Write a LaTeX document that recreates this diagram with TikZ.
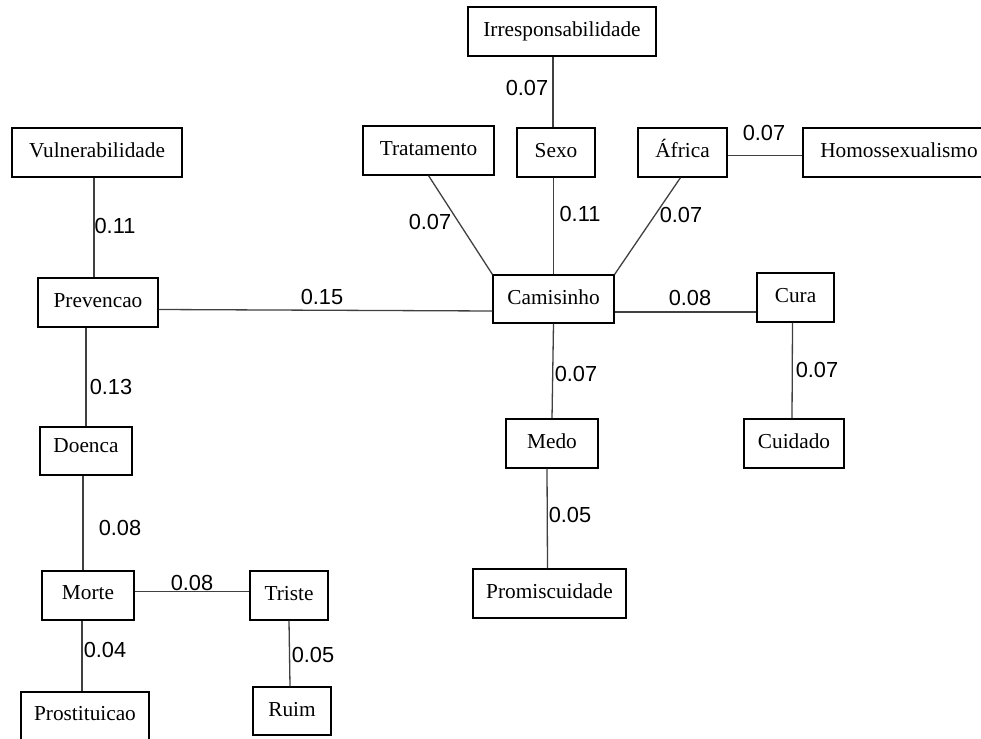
\documentclass[tikz,border=0pt]{standalone}
\usepackage{fontspec}
\setmainfont{Liberation Serif}
\setsansfont{Liberation Sans}
\usepackage{tikz}
\usetikzlibrary{positioning}

\begin{document}
\begin{tikzpicture}[x=1pt, y=-1pt,
    termo/.style={draw, line width=1.2pt, inner sep=0pt, minimum height=49pt,
        text height=13pt, text depth=3pt, font=\fontsize{21.3}{25}\selectfont},
    liga/.style={draw=black!75, line width=1.3pt},
    peso/.style={inner sep=0pt, font=\sffamily\fontsize{21.8}{25}\selectfont}]
    \useasboundingbox (0,0) rectangle (981,738);

    % Upper row of terms
    \node[termo, minimum width=188pt] (irr) at (562,31.5) {Irresponsabilidade};
    \node[termo, minimum width=170pt] (vul) at (97,152.5) {Vulnerabilidade};
    \node[termo, minimum width=131pt] (trat) at (428.5,150.5) {Tratamento};
    \node[termo, minimum width=78pt] (sexo) at (556,152.5) {Sexo};
    \node[termo, minimum width=89pt] (afr) at (682.5,152.5) {África};
    \node[termo, minimum width=192pt] (homo) at (899,152.5) {Homossexualismo};

    % Middle row
    \node[termo, minimum width=120pt] (prev) at (98,302.5) {Prevencao};
    \node[termo, minimum width=121pt, minimum height=48pt] (cam) at (553.5,299) {Camisinho};
    \node[termo, minimum width=77pt] (cura) at (795.5,297.5) {Cura};

    % Lower rows
    \node[termo, minimum width=92pt, minimum height=48pt, text depth=11pt] (doenca) at (86,451) {Doenca};
    \node[termo, minimum width=92pt] (medo) at (552,443.5) {Medo};
    \node[termo, minimum width=100pt] (cuid) at (794,443.5) {Cuidado};
    \node[termo, minimum width=153pt] (prom) at (549.5,593.5) {Promiscuidade};
    \node[termo, minimum width=92pt, text depth=6pt] (morte) at (88,595.5) {Morte};
    \node[termo, minimum width=78pt] (triste) at (289,595.5) {Triste};
    \node[termo, minimum width=128pt, text depth=6pt] (prost) at (85,716.5) {Prostituicao};
    \node[termo, minimum width=78pt, minimum height=48pt] (ruim) at (292,711) {Ruim};

    % Connectors
    \draw[liga] ([xshift=-3pt]sexo.north) -- ([xshift=-3pt]sexo.north |- irr.south);
    \draw[liga] ([xshift=-4pt]prev.north) -- ([xshift=-4pt]prev.north |- vul.south);
    \draw[liga] (trat.south) -- (cam.north west);
    \draw[liga] (cam.north) -- (cam.north |- sexo.south);
    \draw[liga] ([xshift=-2pt]afr.south) -- (cam.north east);
    \draw[liga] ([yshift=-3pt]afr.east) -- ([yshift=-3pt]afr.east -| homo.west);
    \draw[liga] ([yshift=-7pt]prev.east) -- ([yshift=-12pt]cam.west);
    \draw[liga] ([yshift=-13pt]cam.east) -- ([yshift=-13pt]cam.east -| cura.west);
    \draw[liga] (cam.south) -- (medo.north);
    \draw[liga] ([xshift=-3pt]cura.south) -- ([xshift=-2pt]cuid.north);
    \draw[liga] ([xshift=-5pt]medo.south) -- ([xshift=-2pt]prom.north);
    \draw[liga] (doenca.north) -- (doenca.north |- prev.south);
    \draw[liga] ([xshift=-3pt]doenca.south) -- ([xshift=-5pt]morte.north);
    \draw[liga] ([yshift=4pt]morte.east) -- ([yshift=4pt]morte.east -| triste.west);
    \draw[liga] ([xshift=-6pt]morte.south) -- ([xshift=-3pt]prost.north);
    \draw[liga] (triste.south) -- ([xshift=-2pt]ruim.north);

    % Weights
    \node[peso] (w1) at (527,88) {0.07};
    \node[peso] (w2) at (115,226) {0.11};
    \node[peso] (w3) at (430,222) {0.07};
    \node[peso] (w4) at (580,214) {0.11};
    \node[peso] (w5) at (681,215) {0.07};
    \node[peso] (w6) at (764,133) {0.07};
    \node[peso] (w7) at (322,297) {0.15};
    \node[peso] (w8) at (690,298) {0.08};
    \node[peso] (w9) at (576,374) {0.07};
    \node[peso] (w10) at (817,370) {0.07};
    \node[peso] (w11) at (111,387) {0.13};
    \node[peso] (w12) at (120,528) {0.08};
    \node[peso] (w13) at (192,583) {0.08};
    \node[peso] (w14) at (105,650) {0.04};
    \node[peso] (w15) at (313,655) {0.05};
    \node[peso] (w16) at (570,515) {0.05};
\end{tikzpicture}
\end{document}
